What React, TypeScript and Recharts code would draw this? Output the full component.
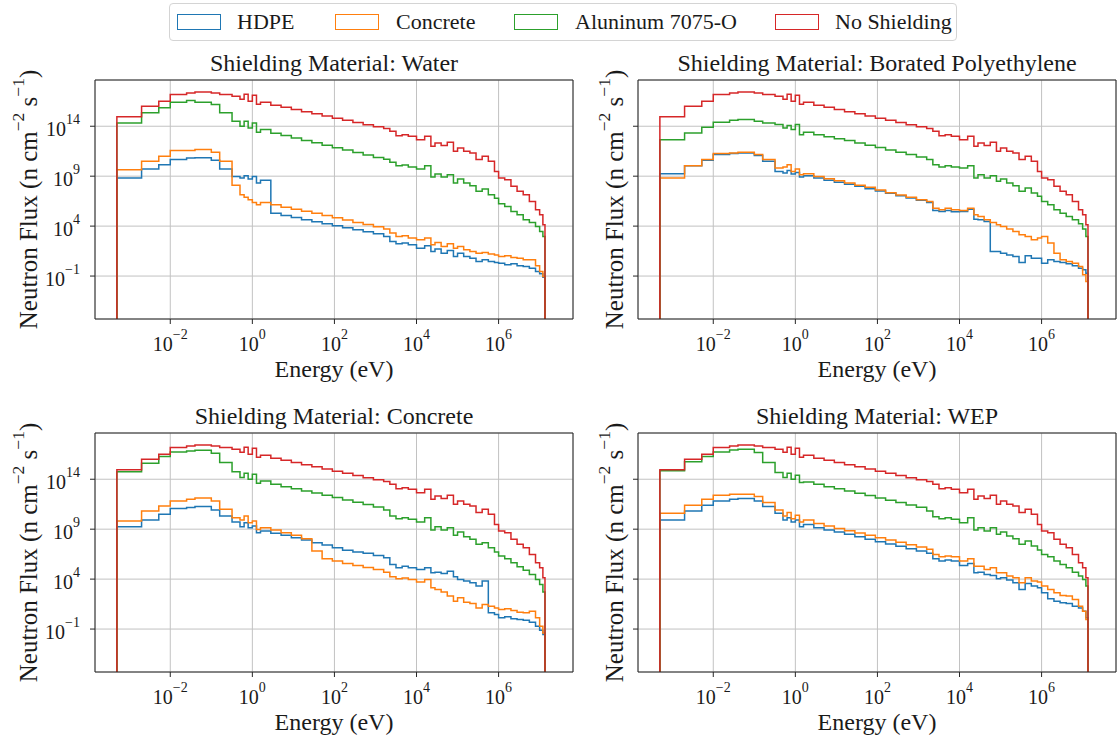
import React from "react";
import { LineChart, Line, XAxis, YAxis, CartesianGrid, Label, ReferenceLine } from "recharts";

// bin lower edges (eV); the last bin closes at lastEdge
const energies = [
  5e-4, 2e-3, 5.25e-3, 1e-2, 2.5e-2, 4e-2, 0.1, 0.16, 0.32, 0.5, 0.63, 0.79, 1, 1.26, 1.58, 2.82, 5.01,
  8.91, 15.8, 28.2, 50.1, 89.1, 158, 282, 501, 891, 1585, 2239, 3162, 4467, 6310, 1e4, 1.58e4, 2.24e4,
  2.82e4, 3.98e4, 5.62e4, 7.94e4, 1e5, 1.41e5, 2e5, 2.82e5, 3.98e5, 5.62e5, 7.94e5, 1e6, 1.41e6, 2e6,
  2.82e6, 3.98e6, 5.62e6, 7.94e6, 1e7, 1.2e7,
];
const lastEdge = 1.35e7;

// flux per bin, read as powers of ten
const noShieldingExp = [
  14.94, 16.0, 16.5, 17.18, 17.33, 17.44, 17.33, 17.18, 17.0, 16.7, 17.2, 16.5, 17.1, 16.2, 16.4, 16.11,
  15.9, 15.68, 15.46, 15.24, 15.02, 14.8, 14.59, 14.37, 14.16, 13.94, 13.77, 13.5, 13.06, 13.16, 12.99,
  12.66, 13.0, 12.0, 12.33, 12.06, 12.4, 11.5, 11.83, 11.5, 11.33, 10.66, 11.0, 10.49, 9.48, 8.82, 8.65,
  7.98, 7.48, 7.14, 6.47, 5.64, 5.14, 4.13,
];

const waterHdpeExp = [
  8.82, 9.72, 10.15, 10.66, 10.82, 10.85, 10.59, 9.72, 8.98, 8.82, 9.05, 8.72, 8.98, 8.31, 8.58, 5.3, 5.07,
  4.87, 4.63, 4.43, 4.23, 4.03, 3.83, 3.63, 3.43, 3.23, 2.96, 2.46, 2.23, 2.3, 2.13, 1.79, 2.03, 1.46, 1.7,
  1.29, 1.56, 0.96, 1.29, 0.96, 0.79, 0.45, 0.62, 0.45, 0.35, 0.29, 0.12, 0.22, 0.02, -0.05, -0.21, -0.55,
  -0.78, -1.12,
];
const waterConcreteExp = [
  9.65, 10.49, 10.99, 11.56, 11.56, 11.66, 11.39, 10.49, 8.1, 7.14, 6.9, 6.64, 6.37, 6.14, 6.37, 6.14, 5.9,
  5.7, 5.5, 5.3, 5.07, 4.84, 4.6, 4.37, 4.17, 3.93, 3.7, 3.3, 2.96, 3.03, 2.8, 2.63, 2.8, 2.13, 2.36, 1.96,
  2.23, 1.79, 1.96, 1.63, 1.46, 1.29, 1.36, 1.22, 1.12, 0.96, 1.03, 0.86, 0.79, 0.62, 0.62, 0.02, -0.55,
  -1.05,
];
const waterAluminumExp = [
  14.33, 15.34, 15.84, 16.4, 16.57, 16.4, 16.17, 15.34, 14.5, 14.0, 14.5, 13.83, 14.33, 13.4, 13.67, 13.3,
  13.07, 12.83, 12.58, 12.34, 12.09, 11.85, 11.61, 11.36, 11.13, 10.88, 10.69, 10.39, 10.05, 10.12, 9.92,
  9.72, 10.05, 8.92, 9.22, 8.92, 9.15, 8.31, 8.72, 8.31, 8.05, 7.48, 7.71, 7.14, 6.8, 6.24, 5.97, 5.47,
  5.14, 4.63, 4.37, 3.97, 3.47, 2.96,
];

const bpeHdpeExp = [
  9.25, 10.05, 10.59, 11.16, 11.26, 11.33, 11.06, 10.49, 9.48, 9.32, 9.58, 9.22, 9.38, 8.92, 9.05, 8.82,
  8.58, 8.38, 8.18, 7.98, 7.75, 7.51, 7.28, 7.04, 6.81, 6.58, 6.37, 5.57, 5.47, 5.57, 5.44, 5.47, 5.7, 4.7,
  4.63, 4.47, 1.46, 1.46, 1.29, 1.12, 0.96, 0.35, 1.03, 0.79, 0.79, 0.29, 0.62, 0.45, 0.35, 0.22, 0.02,
  -0.21, -0.38, -0.72,
];
const bpeConcreteExp = [
  8.82, 10.05, 10.66, 11.26, 11.33, 11.39, 11.16, 10.66, 9.82, 9.92, 10.15, 9.48, 9.72, 9.15, 9.25, 8.98,
  8.75, 8.55, 8.31, 8.08, 7.88, 7.61, 7.34, 7.11, 6.88, 6.64, 6.47, 5.8, 5.64, 5.8, 5.64, 5.57, 5.8, 5.14,
  4.97, 4.63, 4.37, 4.13, 3.97, 3.7, 3.47, 3.13, 2.96, 2.63, 2.8, 2.96, 2.3, 1.29, 0.62, 0.45, 0.29, -0.05,
  -0.88, -1.55,
];
const bpeAluminumExp = [
  12.66, 13.33, 13.9, 14.4, 14.6, 14.67, 14.5, 14.33, 14.17, 13.83, 14.07, 13.67, 14.17, 13.16, 13.4,
  13.16, 12.96, 12.76, 12.56, 12.33, 12.1, 11.86, 11.63, 11.39, 11.16, 10.92, 10.66, 10.15, 9.92, 10.05,
  9.92, 9.82, 10.05, 8.82, 9.15, 8.82, 9.05, 8.48, 8.72, 8.31, 8.05, 7.48, 7.81, 7.31, 6.98, 6.47, 6.14,
  5.64, 5.3, 4.97, 4.63, 4.23, 3.7, 2.96,
];

const concreteHdpeExp = [
  9.25, 9.92, 10.49, 11.06, 11.16, 11.26, 10.92, 10.32, 9.72, 9.25, 9.65, 9.15, 9.32, 8.65, 8.82, 8.58,
  8.38, 8.15, 7.91, 7.64, 7.41, 7.14, 6.9, 6.71, 6.58, 6.37, 6.14, 5.47, 5.14, 5.3, 5.14, 4.97, 5.14, 4.63,
  4.7, 4.57, 4.8, 4.23, 3.97, 3.8, 3.63, 3.3, 3.8, 0.62, 0.45, 0.12, 0.22, 0.02, -0.05, -0.12, -0.31, -0.72,
  -1.12, -1.55,
];
const concreteConcreteExp = [
  9.82, 10.82, 11.32, 11.83, 11.99, 12.13, 11.83, 10.99, 10.15, 9.92, 10.32, 9.65, 9.82, 8.98, 9.15, 8.92,
  8.65, 8.38, 8.05, 6.81, 6.04, 5.81, 5.57, 5.37, 5.17, 4.97, 4.7, 4.23, 4.03, 4.1, 3.97, 3.7, 3.97, 3.13,
  2.96, 2.7, 2.3, 1.79, 2.13, 1.69, 1.56, 1.12, 1.46, 1.29, 1.12, 0.96, 1.03, 0.86, 0.69, 0.62, 0.79, 0.12,
  -0.72, -1.39,
];
const concreteAluminumExp = [
  14.74, 15.6, 16.27, 16.74, 16.84, 16.91, 16.61, 15.67, 14.74, 14.17, 14.6, 14.0, 14.5, 13.6, 13.83, 13.5,
  13.26, 13.06, 12.83, 12.63, 12.39, 12.16, 11.93, 11.69, 11.46, 11.22, 10.92, 10.32, 10.05, 10.15, 9.99,
  9.72, 10.15, 8.92, 9.25, 8.92, 9.15, 8.38, 8.72, 8.25, 7.98, 7.48, 7.64, 7.14, 6.71, 6.31, 6.04, 5.64,
  5.24, 4.9, 4.47, 3.97, 3.47, 2.7,
];

const wepHdpeExp = [
  9.92, 10.82, 11.39, 11.83, 11.99, 12.06, 11.83, 11.26, 10.59, 9.92, 10.15, 9.72, 9.92, 9.25, 9.48, 9.15,
  8.92, 8.72, 8.48, 8.25, 7.98, 7.75, 7.51, 7.28, 7.04, 6.81, 6.58, 6.04, 5.81, 5.91, 5.81, 5.37, 5.57,
  4.63, 4.7, 4.47, 4.37, 4.03, 4.13, 3.9, 3.63, 2.96, 3.57, 3.3, 3.13, 2.63, 2.03, 1.79, 1.63, 1.56, 1.29,
  1.12, 0.79, 0.12,
];
const wepConcreteExp = [
  10.59, 11.39, 11.99, 12.39, 12.49, 12.49, 12.26, 11.66, 10.92, 10.32, 10.66, 10.05, 10.39, 9.72, 9.92,
  9.58, 9.32, 9.08, 8.85, 8.62, 8.38, 8.15, 7.91, 7.68, 7.44, 7.21, 6.98, 6.47, 6.24, 6.31, 6.24, 5.81,
  6.04, 5.3, 5.3, 4.97, 5.14, 4.63, 4.63, 4.3, 4.13, 3.63, 4.13, 3.8, 3.7, 3.3, 2.96, 2.63, 2.36, 2.3,
  1.96, 1.29, 0.79, -0.05,
];
const wepAluminumExp = [
  14.84, 15.74, 16.27, 16.74, 16.94, 17.0, 16.68, 15.67, 14.67, 14.17, 14.6, 14.0, 14.4, 13.67, 13.73,
  13.5, 13.26, 13.06, 12.83, 12.59, 12.36, 12.13, 11.89, 11.66, 11.42, 11.19, 10.82, 10.25, 10.05, 10.15,
  9.99, 9.65, 10.15, 8.92, 9.15, 8.82, 9.15, 8.48, 8.72, 8.31, 8.05, 7.48, 7.81, 7.31, 6.91, 6.47, 6.24,
  5.81, 5.47, 5.14, 4.7, 4.3, 3.97, 3.3,
];

const xTicks = [1e-2, 1, 1e2, 1e4, 1e6];
const yTicks = [1e-1, 1e4, 1e9, 1e14];
const legendNames = ["HDPE", "Concrete", "Aluninum 7075-O", "No Shielding"];
const titles = [
  "Shielding Material: Water",
  "Shielding Material: Borated Polyethylene",
  "Shielding Material: Concrete",
  "Shielding Material: WEP",
];

const X_DOMAIN = [10 ** -3.834, 10 ** 7.813];
const Y_DOMAIN = [10 ** -5.3, 10 ** 18.63];
const FLOOR = 1e-9; // zero flux, drawn off the bottom of the log axis

const COLORS = ["#1f77b4", "#ff7f0e", "#2ca02c", "#d62728"];
const KEYS = ["hdpe", "concrete", "aluminum", "none"];
const FONT = '"Liberation Serif", "DejaVu Serif", serif';
const INK = "#1a1a1a";
const SPINE = "#262626";

const PLOT_W = 478;
const PLOT_H = 239;
const Y_AXIS_W = 95;
const TOP_PAD = 50;
const X_AXIS_H = 66;
const CHART_W = Y_AXIS_W + PLOT_W + 1;
const CHART_H = TOP_PAD + PLOT_H + X_AXIS_H;

// legend patch / text left edges in the figure
const legendPatchX = [177, 335, 514, 775];
const legendTextX = [237, 396, 575, 835];

function buildRows(hdpe: number[], concrete: number[], aluminum: number[]) {
  const rows: Record<string, number>[] = [
    { E: energies[0], hdpe: FLOOR, concrete: FLOOR, aluminum: FLOOR, none: FLOOR },
  ];
  energies.forEach((E, i) => {
    rows.push({
      E,
      hdpe: 10 ** hdpe[i],
      concrete: 10 ** concrete[i],
      aluminum: 10 ** aluminum[i],
      none: 10 ** noShieldingExp[i],
    });
  });
  rows.push({ E: lastEdge, hdpe: FLOOR, concrete: FLOOR, aluminum: FLOOR, none: FLOOR });
  return rows;
}

const panelRows = [
  buildRows(waterHdpeExp, waterConcreteExp, waterAluminumExp),
  buildRows(bpeHdpeExp, bpeConcreteExp, bpeAluminumExp),
  buildRows(concreteHdpeExp, concreteConcreteExp, concreteAluminumExp),
  buildRows(wepHdpeExp, wepConcreteExp, wepAluminumExp),
];

function expText(v: number) {
  const e = Math.round(Math.log10(v));
  return e < 0 ? "\u2212" + Math.abs(e) : String(e);
}

function XTick(props: any) {
  const { x, y, payload } = props;
  return (
    <text x={x} y={y + 27} textAnchor="middle" fontSize={20} fill={INK} fontFamily={FONT}>
      10
      <tspan dy={-12} fontSize={14}>
        {expText(payload.value)}
      </tspan>
    </text>
  );
}

function YTick(props: any) {
  const { x, y, payload } = props;
  return (
    <text x={x - 10} y={y + 10} textAnchor="end" fontSize={20} fill={INK} fontFamily={FONT}>
      10
      <tspan dy={-12} fontSize={14}>
        {expText(payload.value)}
      </tspan>
    </text>
  );
}

function NoTick() {
  return <g />;
}

function Panel({ index }: { index: number }) {
  const cx = Y_AXIS_W + PLOT_W / 2;
  const cy = TOP_PAD + PLOT_H / 2;
  const showYLabels = index % 2 === 0;
  const labelX = showYLabels ? 37 : 80;
  return (
    <LineChart
      width={CHART_W}
      height={CHART_H}
      data={panelRows[index]}
      margin={{ top: TOP_PAD, right: 1, left: 0, bottom: 0 }}
    >
      <CartesianGrid stroke="#c2c2c2" strokeWidth={1} />
      <XAxis
        dataKey="E"
        type="number"
        scale="log"
        domain={X_DOMAIN}
        allowDataOverflow
        ticks={xTicks}
        interval={0}
        height={X_AXIS_H}
        tickSize={5}
        tickMargin={0}
        stroke={SPINE}
        tick={<XTick />}
      >
        <Label
          content={() => (
            <text x={cx} y={TOP_PAD + PLOT_H + 58} textAnchor="middle" fontSize={24} fill={INK} fontFamily={FONT}>
              Energy (eV)
            </text>
          )}
        />
        <Label
          content={() => (
            <text x={cx} y={TOP_PAD - 9} textAnchor="middle" fontSize={24} fill={INK} fontFamily={FONT}>
              {titles[index]}
            </text>
          )}
        />
      </XAxis>
      <YAxis
        type="number"
        scale="log"
        domain={Y_DOMAIN}
        allowDataOverflow
        ticks={yTicks}
        interval={0}
        width={Y_AXIS_W}
        tickSize={5}
        tickMargin={0}
        stroke={SPINE}
        tick={showYLabels ? <YTick /> : <NoTick />}
      >
        <Label
          content={() => (
            <text
              x={labelX}
              y={cy}
              transform={`rotate(-90 ${labelX} ${cy})`}
              textAnchor="middle"
              fontSize={25}
              fill={INK}
              fontFamily={FONT}
            >
              Neutron Flux (n cm
              <tspan dy={-13} fontSize={17.5}>
                {"\u22122"}
              </tspan>
              <tspan dy={13}> s</tspan>
              <tspan dy={-13} fontSize={17.5}>
                {"\u22121"}
              </tspan>
              <tspan dy={13}>)</tspan>
            </text>
          )}
        />
      </YAxis>
      <ReferenceLine x={X_DOMAIN[1]} stroke={SPINE} strokeWidth={1} ifOverflow="visible" />
      <ReferenceLine y={Y_DOMAIN[1]} stroke={SPINE} strokeWidth={1} ifOverflow="visible" />
      {KEYS.map((k, i) => (
        <Line
          key={k}
          dataKey={k}
          type="stepAfter"
          stroke={COLORS[i]}
          strokeWidth={1.5}
          dot={false}
          activeDot={false}
          isAnimationActive={false}
        />
      ))}
    </LineChart>
  );
}

const panelPos = [
  { left: 0, top: 30 },
  { left: 543, top: 30 },
  { left: 0, top: 383 },
  { left: 543, top: 383 },
];

export default function App() {
  return (
    <div
      style={{
        position: "absolute",
        left: 0,
        top: 0,
        width: 1117,
        height: 744,
        overflow: "hidden",
        background: "#fff",
        fontFamily: FONT,
        color: INK,
      }}
    >
      <div
        style={{
          position: "absolute",
          left: 169,
          top: 3,
          width: 788,
          height: 38,
          border: "1px solid #d4d4d4",
          borderRadius: 4,
          boxSizing: "border-box",
        }}
      />
      {legendNames.map((name, i) => (
        <React.Fragment key={name}>
          <span
            style={{
              position: "absolute",
              left: legendPatchX[i],
              top: 14,
              width: 44,
              height: 16,
              border: `1.5px solid ${COLORS[i]}`,
              boxSizing: "border-box",
            }}
          />
          <span
            style={{
              position: "absolute",
              left: legendTextX[i],
              top: 10,
              fontSize: 22,
              lineHeight: "24px",
              whiteSpace: "nowrap",
            }}
          >
            {name}
          </span>
        </React.Fragment>
      ))}
      {panelPos.map((p, i) => (
        <div key={i} style={{ position: "absolute", left: p.left, top: p.top }}>
          <Panel index={i} />
        </div>
      ))}
    </div>
  );
}
